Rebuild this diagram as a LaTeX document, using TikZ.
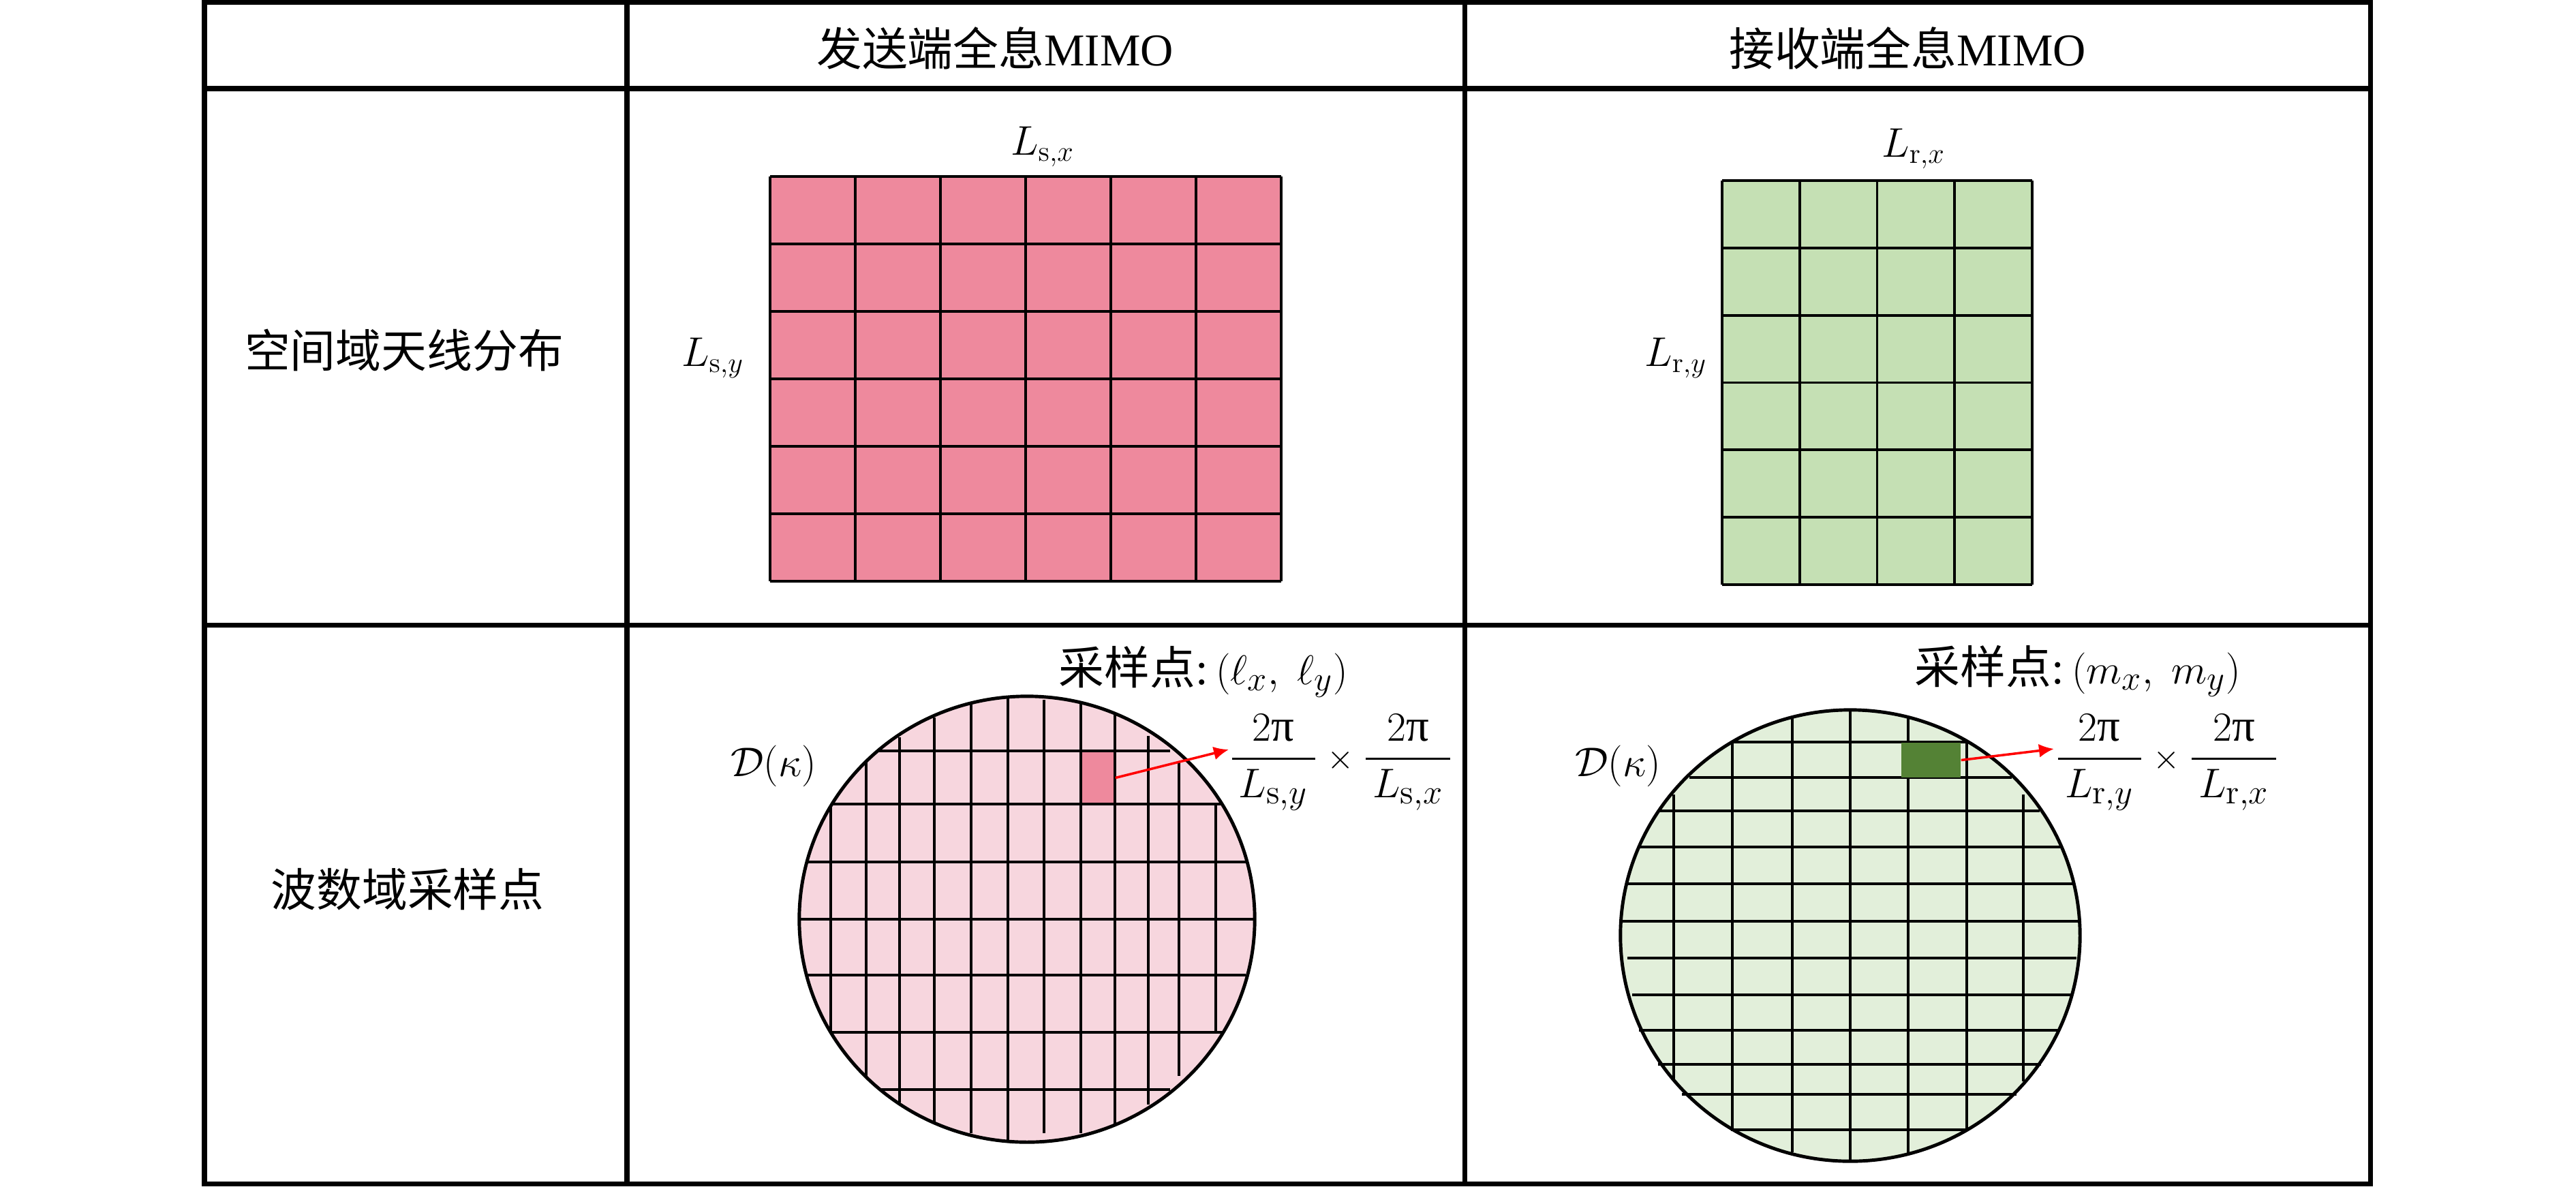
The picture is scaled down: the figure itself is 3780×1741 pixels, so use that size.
\documentclass[tikz,border=0pt]{standalone}
\usepackage[no-math]{fontspec}
\usepackage{amsmath}
\setmainfont{Liberation Serif}
\newfontfamily\cjk{Noto Sans CJK SC}
\usetikzlibrary{arrows.meta}
\definecolor{pinkA}{RGB}{238,137,157}
\definecolor{pinkL}{RGB}{247,214,222}
\definecolor{greenA}{RGB}{197,224,180}
\definecolor{greenL}{RGB}{226,239,218}
\definecolor{greenD}{RGB}{84,130,53}
\begin{document}
\begin{tikzpicture}[x=0.01cm,y=-0.01cm,
  tbl/.style={line width=2pt},
  agrid/.style={line width=1.1pt},
  cgrid/.style={line width=1.3pt},
  rim/.style={line width=1.4pt},
  lbl/.style={font=\fontsize{19}{23}\selectfont, inner sep=0pt},
  mlbl/.style={font=\fontsize{18}{22}\selectfont, inner sep=0pt},
  flbl/.style={font=\fontsize{19}{23}\selectfont, inner sep=0pt},
  redarrow/.style={red, line width=1pt, -{Latex[length=0.22cm,width=0.2cm]}}]
\useasboundingbox (0,0) rectangle (3780,1741);

% ---------- table ----------
\draw[tbl] (300,3.5) rectangle (3478,1737);
\draw[tbl] (920,3.5) -- (920,1737);
\draw[tbl] (2149,3.5) -- (2149,1737);
\draw[tbl] (300,130) -- (3478,130);
\draw[tbl] (300,917) -- (3478,917);

\node[lbl] (hS) at (1460,71) {{\cjk 发送端全息}MIMO};
\node[lbl] (hR) at (2799,71) {{\cjk 接收端全息}MIMO};
\node[lbl] (rA) at (593,514) {\cjk 空间域天线分布};
\node[lbl] (rB) at (598,1305) {\cjk 波数域采样点};

% ---------- transmit antenna array ----------
\fill[pinkA] (1130,259) rectangle (1880,853);
\foreach \i in {0,...,6} \draw[agrid] (1130+125*\i,259) -- (1130+125*\i,853);
\foreach \j in {0,...,6} \draw[agrid] (1130,259+99*\j) -- (1880,259+99*\j);
\node[mlbl] (lsx) at (1530,215) {$L_{\mathrm{s},x}$};
\node[mlbl] (lsy) at (1046,525) {$L_{\mathrm{s},y}$};

% ---------- receive antenna array ----------
\fill[greenA] (2527,265) rectangle (2982,858);
\foreach \i in {0,...,4} \draw[agrid] (2527+113.75*\i,265) -- (2527+113.75*\i,858);
\foreach \j in {0,...,6} \draw[agrid] (2527,265+98.83*\j) -- (2982,265+98.83*\j);
\node[mlbl] (lrx) at (2808,218) {$L_{\mathrm{r},x}$};
\node[mlbl] (lry) at (2459,525) {$L_{\mathrm{r},y}$};

% ---------- transmit wavenumber domain ----------
\fill[pinkL] (1507,1349) ellipse [x radius=3.34cm, y radius=3.27cm];
\node[fill=pinkA, inner sep=0pt, minimum width=0.5cm, minimum height=0.77cm] (cellS) at (1611,1141.5) {};
\foreach \x/\a/\b in {1219/1184/1514, 1271/1119/1579, 1320/1082/1618, 1371/1053/1647,
  1425/1032/1663, 1479/1025/1676, 1532/1027/1663, 1586/1032/1663, 1636/1048/1650,
  1685/1080/1621, 1730/1119/1579, 1784/1181/1514}
  \draw[cgrid] (\x,\a) -- (\x,\b);
\foreach \y/\a/\b in {1102/1288/1717, 1180/1221/1792, 1265/1182/1828, 1349/1173/1840,
  1431/1182/1828, 1515/1218/1795, 1599/1291/1717}
  \draw[cgrid] (\a,\y) -- (\b,\y);
\draw[rim] (1507,1349) ellipse [x radius=3.34cm, y radius=3.27cm];
\node[mlbl] (dS) at (1135,1124) {$\mathcal{D}(\kappa)$};
\node[lbl] (sS) at (1766,986) {{\cjk 采样点}:\,$(\ell_x,\ \ell_y)$};
\node[flbl] (fS) at (1968,1119) {$\dfrac{2\text{π}}{\,L_{\mathrm{s},y}\,}\mathbin{\scriptstyle\times}\dfrac{2\text{π}}{\,L_{\mathrm{s},x}\,}$};
\coordinate (tipS) at (1803,1100);
\draw[redarrow] (cellS.east) -- (tipS);

% ---------- receive wavenumber domain ----------
\fill[greenL] (2715,1373) ellipse [x radius=3.37cm, y radius=3.31cm];
\foreach \x/\a/\b in {2456/1166/1587, 2542/1087/1660, 2630/1053/1691, 2715/1044/1706,
  2800/1053/1694, 2886/1087/1660, 2969/1166/1587}
  \draw[cgrid] (\x,\a) -- (\x,\b);
\foreach \y/\a/\b in {1089/2542/2886, 1141/2479/2952, 1190/2433/2993, 1243/2405/3023,
  1297/2388/3042, 1352/2377/3052, 1406/2388/3047, 1460/2395/3042, 1512/2405/3023,
  1562/2433/2995, 1606/2468/2959, 1658/2542/2886}
  \draw[cgrid] (\a,\y) -- (\b,\y);
\node[fill=greenD, inner sep=0pt, minimum width=0.87cm, minimum height=0.51cm] (cellR) at (2833.5,1115.5) {};
\draw[rim] (2715,1373) ellipse [x radius=3.37cm, y radius=3.31cm];
\node[mlbl] (dR) at (2374,1124) {$\mathcal{D}(\kappa)$};
\node[lbl] (sR) at (3049,985) {{\cjk 采样点}:\,$(m_x,\ m_y)$};
\node[flbl] (fR) at (3180,1119) {$\dfrac{2\text{π}}{\,L_{\mathrm{r},y}\,}\mathbin{\scriptstyle\times}\dfrac{2\text{π}}{\,L_{\mathrm{r},x}\,}$};
\coordinate (tipR) at (3014,1099);
\draw[redarrow] (cellR.east) -- (tipR);
\end{tikzpicture}
\end{document}
